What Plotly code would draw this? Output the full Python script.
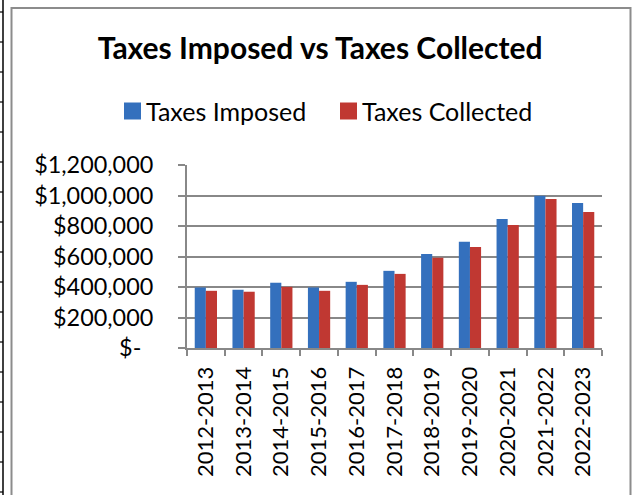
import plotly.graph_objects as go

years = ["2012-2013", "2013-2014", "2014-2015", "2015-2016", "2016-2017", "2017-2018",
         "2018-2019", "2019-2020", "2020-2021", "2021-2022", "2022-2023"]
taxes_imposed = [397000, 382000, 428000, 397000, 434000, 506000, 617000, 696000, 846000, 999000, 951000]
taxes_collected = [375000, 369000, 401000, 375000, 414000, 486000, 591000, 663000, 807000, 977000, 892000]
y_tick_vals = [0, 200000, 400000, 600000, 800000, 1000000, 1200000]
y_tick_text = ["$-\u00a0\u00a0", "$200,000", "$400,000", "$600,000", "$800,000", "$1,000,000", "$1,200,000"]
series_names = ["Taxes Imposed", "Taxes Collected"]
series_colors = ["#3470bd", "#c03832"]

W, H = 634, 495
L, R, T, B = 187, 32, 165, 147
pw, ph = W - L - R, H - T - B

def px_x(p):
    return (p - L) / pw

def px_y(p):
    return (H - B - p) / ph

FONT = "Lato"
GRID = "#888888"

fig = go.Figure()
for name, vals, col in zip(series_names, [taxes_imposed, taxes_collected], series_colors):
    fig.add_trace(go.Bar(name=name, x=years, y=vals, showlegend=False,
                         marker=dict(color=col, line=dict(width=0))))

shapes = [
    dict(type="rect", xref="paper", yref="paper",
         x0=px_x(11.5), x1=px_x(630.5), y0=px_y(8), y1=px_y(520),
         line=dict(color="#8c8c8c", width=2), fillcolor="rgba(0,0,0,0)", layer="below"),
    dict(type="line", xref="paper", yref="paper",
         x0=px_x(3), x1=px_x(3), y0=px_y(-5), y1=px_y(500),
         line=dict(color="#000000", width=1.5)),
]
for k in range(17):
    yy = 12 + 30 * k
    shapes.append(dict(type="line", xref="paper", yref="paper",
                       x0=px_x(-2), x1=px_x(3), y0=px_y(yy), y1=px_y(yy),
                       line=dict(color="#000000", width=1.2)))

# legend (drawn manually: swatch + label)
legend_swatch_left = [124, 340]
annotations = []
for name, col, sx in zip(series_names, series_colors, legend_swatch_left):
    shapes.append(dict(type="rect", xref="paper", yref="paper",
                       x0=px_x(sx), x1=px_x(sx + 17), y0=px_y(119.5), y1=px_y(102.5),
                       line=dict(width=0), fillcolor=col))
    annotations.append(dict(text=name, xref="paper", yref="paper",
                            x=px_x(sx + 21), y=px_y(111), xanchor="left", yanchor="middle",
                            showarrow=False, borderpad=0,
                            font=dict(family=FONT, size=25, color="#000000")))

fig.update_layout(
    width=W, height=H,
    margin=dict(l=L, r=R, t=T, b=B, pad=0, autoexpand=False),
    paper_bgcolor="white", plot_bgcolor="white",
    barmode="group", bargap=0.41, bargroupgap=0,
    showlegend=False,
    title=dict(text="<b>Taxes Imposed vs Taxes Collected</b>", x=0.505, xanchor="center",
               y=1 - 48 / H, yanchor="middle", xref="container", yref="container",
               font=dict(family=FONT, size=30, color="#000000")),
    font=dict(family=FONT, color="#000000"),
    xaxis=dict(type="category", showgrid=False, showline=True, linecolor=GRID, linewidth=2,
               ticks="outside", tickson="boundaries", ticklen=6, tickcolor=GRID, tickwidth=2,
               tickangle=-90, tickfont=dict(family=FONT, size=22, color="#000000"),
               ticklabelstandoff=8),
    yaxis=dict(range=[0, 1200000], tickvals=y_tick_vals, ticktext=y_tick_text,
               showgrid=True, gridcolor=GRID, gridwidth=2, showline=True, linecolor=GRID,
               linewidth=2, ticks="outside", ticklen=7, tickcolor=GRID, tickwidth=2,
               tickfont=dict(family=FONT, size=23.4, color="#000000"), ticklabelstandoff=20,
               zeroline=False),
    shapes=shapes,
    annotations=annotations,
)

fig.write_html("out.html", config={"displayModeBar": False},
               post_script="document.body.style.margin='0';")
